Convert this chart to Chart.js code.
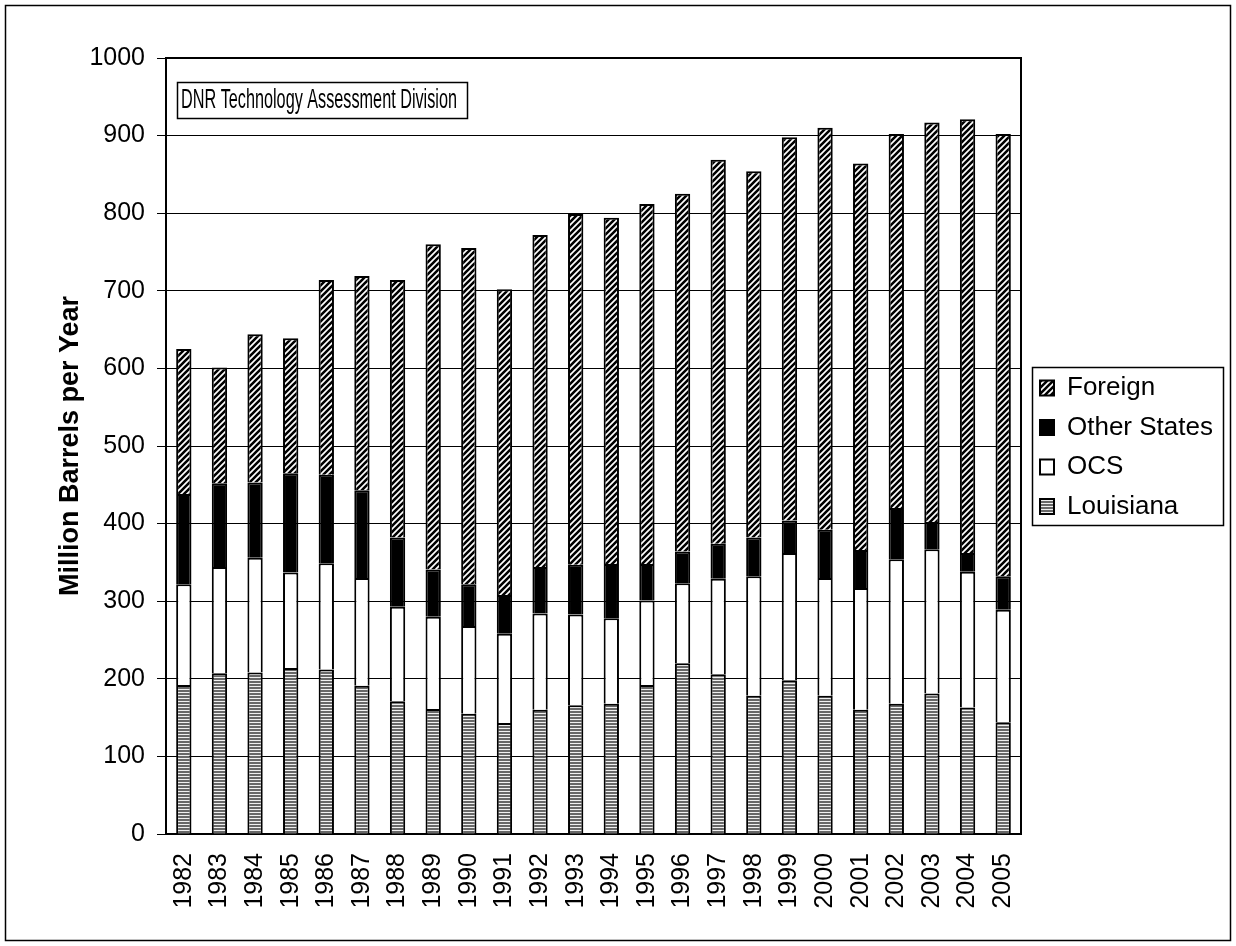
<!DOCTYPE html>
<html><head><meta charset="utf-8">
<script src="https://cdn.jsdelivr.net/npm/chart.js@4/dist/chart.umd.min.js"></script>
<style>html,body{margin:0;padding:0;background:#fff}canvas{display:block}</style>
</head><body>
<canvas id="c" width="1236" height="946"></canvas>
<script>
// ---- data (million barrels per year) ----
const years = ['1982','1983','1984','1985','1986','1987','1988','1989','1990','1991','1992','1993',
               '1994','1995','1996','1997','1998','1999','2000','2001','2002','2003','2004','2005'];
const louisiana   = [192,207,208,214,212,191,171,161,155,143,160,166,168,192,220,206,178,198,178,160,168,181,163,144];
const ocs         = [130,137,148,123,137,139,122,119,113,115,124,117,110,109,103,123,154,164,152,157,186,186,175,145];
const otherStates = [116,108, 97,128,114,113, 89, 61, 54, 50, 60, 64, 70, 47, 41, 45, 50, 42, 62, 49, 66, 35, 24, 43];
const foreign     = [187,149,191,174,251,276,332,419,433,394,428,452,446,464,461,495,472,494,518,498,482,515,559,570];
const yTickValues = [0,100,200,300,400,500,600,700,800,900,1000];
const seriesNames = ['Louisiana','OCS','Other States','Foreign'];
const yAxisTitle = 'Million Barrels per Year';
const noteText = 'DNR Technology Assessment Division';

const F = '"Liberation Sans", Arial, Helvetica, sans-serif';
Chart.defaults.font.family = F;
Chart.defaults.color = '#000';

function hatchPattern() {
  const c = document.createElement('canvas'); c.width = 6; c.height = 6;
  const g = c.getContext('2d');
  g.fillStyle = '#fff'; g.fillRect(0, 0, 6, 6);
  g.strokeStyle = '#000'; g.lineWidth = 2.6;
  g.beginPath();
  g.moveTo(-2, 8); g.lineTo(8, -2);
  g.moveTo(-5, 5); g.lineTo(5, -5);
  g.moveTo(1, 11); g.lineTo(11, 1);
  g.stroke();
  return g.createPattern(c, 'repeat');
}
function stripePattern() {
  const c = document.createElement('canvas'); c.width = 4; c.height = 3;
  const g = c.getContext('2d');
  g.fillStyle = '#686868'; g.fillRect(0, 0, 4, 2);
  g.fillStyle = '#f0f0f0'; g.fillRect(0, 2, 4, 1);
  return g.createPattern(c, 'repeat');
}

const LEG_SWATCH_X = 1040, LEG_TEXT_TOP = 375;

const decor = {
  id: 'decor',
  beforeDraw(chart) {
    const ctx = chart.ctx;
    ctx.save(); ctx.fillStyle = '#fff'; ctx.fillRect(0, 0, chart.width, chart.height); ctx.restore();
  },
  afterLayout(chart) {
    const lg = chart.legend; if (!lg) return;
    const p = lg.options.labels.padding;
    const w = lg.width;
    lg.left = LEG_SWATCH_X - p; lg.right = lg.left + w;
    lg.top = LEG_TEXT_TOP - p; lg.bottom = lg.top + 400; lg.height = 400;
  },
  afterDraw(chart) {
    const ctx = chart.ctx, a = chart.chartArea;
    ctx.save();
    // plot frame (top & right)
    ctx.strokeStyle = '#000'; ctx.lineWidth = 2;
    ctx.beginPath();
    ctx.moveTo(a.left, a.top); ctx.lineTo(a.right, a.top); ctx.lineTo(a.right, a.bottom);
    ctx.stroke();
    // note box
    const bx = a.left + 11, by = a.top + 24, bw = 290, bh = 36;
    ctx.fillStyle = '#fff'; ctx.fillRect(bx, by, bw, bh);
    ctx.lineWidth = 1.5; ctx.strokeRect(bx + 0.5, by + 0.5, bw, bh);
    ctx.fillStyle = '#000'; ctx.font = '27px ' + F; ctx.textBaseline = 'middle'; ctx.textAlign = 'left';
    ctx.fillText(noteText, bx + 4, by + bh / 2 + 1, 276);
    // legend border
    ctx.lineWidth = 1.5;
    ctx.strokeRect(1032.5, 367.5, 191, 158);
    // outer frame
    ctx.lineWidth = 1.5;
    ctx.strokeRect(5.5, 5.5, chart.width - 11, chart.height - 11);
    ctx.restore();
  }
};

const common = { borderColor: '#000', borderWidth: 2 };
new Chart(document.getElementById('c'), {
  type: 'bar',
  data: {
    labels: years,
    datasets: [
      Object.assign({ label: seriesNames[0], data: louisiana,   backgroundColor: stripePattern() }, common),
      Object.assign({ label: seriesNames[1], data: ocs,         backgroundColor: '#fff' }, common),
      Object.assign({ label: seriesNames[2], data: otherStates, backgroundColor: '#000' }, common),
      Object.assign({ label: seriesNames[3], data: foreign,     backgroundColor: hatchPattern() }, common)
    ]
  },
  options: {
    responsive: false, animation: false, devicePixelRatio: 1,
    layout: { padding: { left: 50, top: 58, right: 215, bottom: 0 } },
    datasets: { bar: { barPercentage: 0.43, categoryPercentage: 1 } },
    plugins: {
      tooltip: { enabled: false },
      legend: {
        position: 'chartArea', align: 'start', reverse: true,
        labels: { font: { size: 26, family: F }, color: '#000', boxWidth: 14, boxHeight: 15, padding: 13.5 }
      }
    },
    scales: {
      x: {
        stacked: true,
        grid: { display: false, drawTicks: false },
        border: { display: true, color: '#000', width: 2 },
        ticks: { color: '#000', font: { size: 25, family: F }, minRotation: 90, maxRotation: 90, autoSkip: false, padding: 19 },
        afterFit(s) { s.height = 112; }
      },
      y: {
        stacked: true, min: 0, max: 1000,
        ticks: { color: '#000', font: { size: 25, family: F }, padding: 12, callback: v => String(v) },
        grid: { color: '#000', lineWidth: 1, tickLength: 9, drawTicks: true },
        border: { display: true, color: '#000', width: 2 },
        title: { display: true, text: yAxisTitle, color: '#000', font: { size: 27, weight: 'bold', family: F }, padding: { top: 4, bottom: 4 } },
        afterBuildTicks(s) { s.ticks = yTickValues.map(v => ({ value: v })); },
        afterFit(s) { s.width = 116; }
      }
    }
  },
  plugins: [decor]
});
</script>
</body></html>
